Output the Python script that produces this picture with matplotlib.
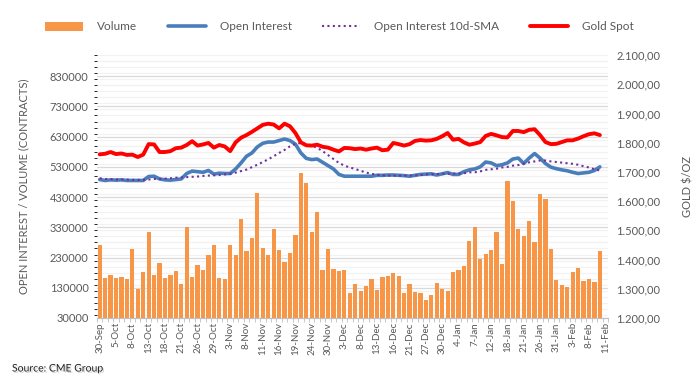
import numpy as np
import pandas as pd
import matplotlib
matplotlib.use("Agg")
import matplotlib.pyplot as plt
import matplotlib.patheffects as pe
from matplotlib.ticker import FuncFormatter, MultipleLocator

plt.rcParams['font.family'] = ['Lato', 'DejaVu Sans']

# Trading days 30-Sep-2021 .. 11-Feb-2022 (CME holidays skipped)
dates = pd.bdate_range("2021-09-30", "2022-02-11")
dates = dates[~dates.isin(pd.to_datetime(["2021-11-25", "2021-12-24", "2022-01-17"]))]
date_labels = [f"{d.day}-{d.strftime('%b')}" for d in dates]

# Volume (contracts, thousands)
volume = [271, 161, 172, 161, 165, 158, 258, 126, 182, 313,
          171, 212, 161, 172, 184, 142, 330, 166, 205, 189,
          238, 271, 161, 158, 271, 238, 359, 250, 293, 444,
          263, 238, 323, 254, 215, 245, 304, 510, 477, 316,
          382, 188, 257, 192, 184, 189, 113, 142, 120, 135,
          158, 122, 165, 168, 179, 168, 113, 142, 117, 113,
          90, 106, 146, 126, 120, 182, 189, 202, 284, 330,
          225, 241, 254, 316, 209, 484, 418, 326, 301, 352,
          283, 441, 425, 259, 155, 138, 132, 182, 194, 153,
          158, 148, 250, np.nan]

# Open interest (contracts, thousands)
open_interest = [488, 485, 487, 486, 487, 485, 485, 485, 485, 498,
                 499, 490, 487, 486, 488, 490, 508, 516, 514, 512,
                 518, 506, 509, 508, 508, 523, 543, 565, 576, 596,
                 608, 612, 612, 617, 622, 617, 605, 576, 558, 554,
                 556, 545, 534, 523, 505, 499, 499, 499, 499, 499,
                 499, 502, 502, 503, 503, 502, 501, 499, 502, 505,
                 506, 507, 503, 507, 511, 505, 505, 514, 520, 523,
                 530, 546, 543, 534, 537, 543, 556, 559, 541, 559,
                 574, 559, 541, 529, 524, 520, 517, 512, 508, 510,
                 512, 518, 530, np.nan]

# Open interest 10d-SMA (thousands)
oi_sma = [492, 490, 489, 488, 488, 488, 487, 487, 487, 488,
          490, 490, 491, 492, 494, 495, 496, 497, 498, 500,
          501, 502, 503, 505, 507, 511, 516, 521, 529, 537,
          546, 555, 565, 576, 586, 598, 606, 609, 605, 600,
          593, 582, 569, 556, 543, 534, 528, 523, 517, 511,
          507, 504, 502, 501, 501, 501, 501, 501, 502, 503,
          505, 506, 506, 507, 507, 508, 508, 509, 512, 512,
          515, 520, 522, 524, 528, 530, 534, 536, 541, 545,
          548, 551, 551, 548, 546, 544, 542, 540, 537, 532,
          528, 522, 518, np.nan]

# Gold spot ($/oz)
gold = [1760, 1762, 1768, 1761, 1763, 1758, 1759, 1751, 1759, 1795,
        1794, 1768, 1768, 1771, 1781, 1783, 1792, 1805, 1790, 1794,
        1799, 1783, 1792, 1787, 1771, 1801, 1817, 1826, 1837, 1849,
        1861, 1865, 1862, 1849, 1865, 1856, 1833, 1801, 1791, 1790,
        1793, 1786, 1783, 1776, 1770, 1782, 1781, 1778, 1780, 1776,
        1780, 1783, 1774, 1776, 1799, 1795, 1790, 1795, 1806, 1809,
        1807, 1808, 1813, 1822, 1833, 1810, 1813, 1801, 1793, 1797,
        1802, 1823, 1830, 1825, 1819, 1818, 1840, 1840, 1836, 1844,
        1846, 1826, 1802, 1795, 1796, 1802, 1808, 1808, 1814, 1822,
        1829, 1832, 1826, np.nan]

x = np.arange(len(dates))
volume = np.array(volume) * 1000
open_interest = np.array(open_interest) * 1000
oi_sma = np.array(oi_sma) * 1000

fig = plt.figure(figsize=(7, 3.87), dpi=100)
ax = fig.add_axes([97 / 700, 69 / 387, 511 / 700, 263 / 387])
ax2 = ax.twinx()

txt = '#595959'

b = ax.bar(x, volume, width=0.78, color='#F79646', label='Volume', zorder=2)
l1, = ax.plot(x, open_interest, color='#4A7EBB', lw=2.6, label='Open Interest', zorder=3,
              solid_capstyle='round')
l2, = ax.plot(x, oi_sma, color='#7030A0', lw=1.5, ls=(0, (1, 1.6)), label='Open Interest 10d-SMA',
              zorder=4)
l3, = ax2.plot(x, gold, color='#FF0000', lw=2.8, label='Gold Spot', solid_capstyle='round')

ax.set_xlim(-0.5, len(x) - 0.5)
ax.set_ylim(30000, 900000)
ax.set_yticks(np.arange(30000, 900000, 100000))
ax.yaxis.set_minor_locator(MultipleLocator(20000))
ax.grid(axis='y', which='major', color='#D9D9D9', lw=0.9, zorder=0)
ax.grid(axis='y', which='minor', color='#F2F2F2', lw=0.9, zorder=0)
ax.set_axisbelow(True)

ax2.set_ylim(1200, 2100)
ax2.set_yticks(np.arange(1200, 2101, 100))
ax2.yaxis.set_major_formatter(FuncFormatter(
    lambda v, p: f"{v:,.2f}".replace(',', 'X').replace('.', ',').replace('X', '.')))

ax.set_xticks(x[::3])
ax.set_xticklabels(date_labels[::3], rotation=90, fontsize=7, color=txt)
ax.set_xticks(np.arange(-0.5, len(x)), minor=True)
ax.tick_params(axis='x', which='major', length=0, pad=3)
ax.tick_params(axis='x', which='minor', length=3, color='#BFBFBF')
ax.tick_params(axis='y', length=0, labelsize=8, labelcolor=txt, pad=6)
ax2.tick_params(axis='y', length=0, labelsize=8, labelcolor=txt, pad=6)

for a in (ax, ax2):
    for s in ('top', 'left', 'right'):
        a.spines[s].set_visible(False)
    a.spines['bottom'].set_color('#BFBFBF')

ax.set_ylabel('OPEN INTEREST / VOLUME (CONTRACTS)', fontsize=8, color=txt, labelpad=15)
ax2.set_ylabel('GOLD $/OZ', fontsize=8, color=txt, labelpad=16)

fig.legend(handles=[b, l1, l2, l3], loc='center', bbox_to_anchor=(0.485, 1 - 27 / 387),
           ncol=4, frameon=False, fontsize=8.5, handlelength=3.2, columnspacing=2.6,
           handletextpad=1.2, labelcolor=txt)

fig.text(12 / 700, 1 - 369 / 387, 'Source: CME Group', fontsize=7.5, color='#222222',
         va='center', path_effects=[pe.withSimplePatchShadow(offset=(1, -1), shadow_rgbFace='#999999', alpha=0.4)])

fig.savefig('out.png', dpi=100)
